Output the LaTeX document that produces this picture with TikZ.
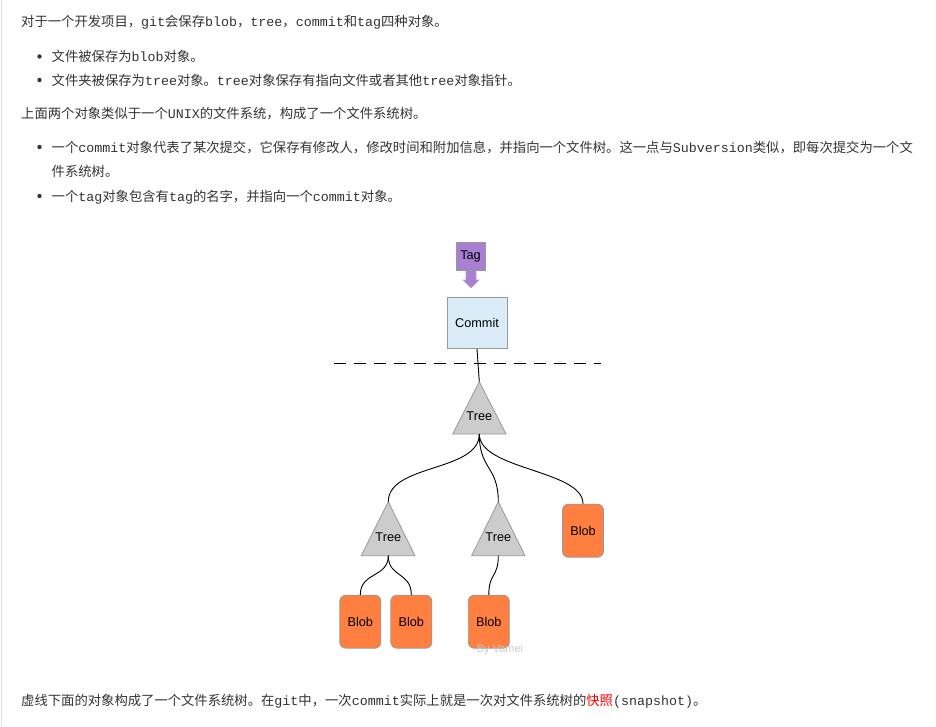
\documentclass[tikz,border=0pt]{standalone}
\usepackage{fontspec}
\newfontfamily\cjkf{Noto Sans CJK SC}
\newfontfamily\monof{Liberation Mono}
\newfontfamily\arialf{Liberation Sans}
\newcommand\mm[1]{{\monof #1}}
\definecolor{textgray}{HTML}{333333}
\definecolor{edgegray}{HTML}{E2E2E2}
\definecolor{bordergray}{HTML}{999999}
\definecolor{tagpurple}{HTML}{A97FD3}
\definecolor{arrowborder}{HTML}{B9A3CC}
\definecolor{commitblue}{HTML}{DAECF7}
\definecolor{treegray}{HTML}{CCCCCC}
\definecolor{bloborange}{HTML}{FF7F40}
\definecolor{wmgray}{HTML}{C5CCD3}
\definecolor{hlred}{HTML}{FF0000}
\tikzset{
  txt/.style={anchor=base west, inner sep=0pt, font=\cjkf\fontsize{13.33}{16}\selectfont, text=textgray},
  obj/.style={draw=bordergray, line width=0.8pt, inner sep=0pt, font=\arialf\fontsize{12.7}{15}\selectfont, text=black},
  tagbox/.style={obj, fill=tagpurple, minimum width=29pt, minimum height=28pt},
  commitbox/.style={obj, fill=commitblue, minimum width=60pt, minimum height=51pt},
  blobbox/.style={obj, fill=bloborange, rounded corners=6pt, minimum width=41pt, minimum height=53pt},
  treeshape/.style={draw=bordergray, line width=0.8pt, fill=treegray},
  treelabel/.style={inner sep=0pt, font=\arialf\fontsize{12.7}{15}\selectfont, text=black},
  link/.style={draw=black, line width=0.9pt},
  sepline/.style={draw=black, line width=0.9pt, dash pattern=on 12pt off 8pt},
  bulletdot/.style={fill=textgray}
}
\begin{document}
\begin{tikzpicture}[x=1pt,y=-1pt]
\fill[white] (0,0) rectangle (936,726);
\useasboundingbox (0,0) rectangle (936,726);
\draw[edgegray, line width=1pt] (1.5,0) -- (1.5,726);

% text
\node[txt] (l1) at (21,26.5) {对于一个开发项目，\mm{git}会保存\mm{blob}，\mm{tree}，\mm{commit}和\mm{tag}四种对象。};
\fill[bulletdot] (39.5,56.5) circle (2.2);
\node[txt] (l2) at (51.5,61.5) {文件被保存为\mm{blob}对象。};
\fill[bulletdot] (39.5,80) circle (2.2);
\node[txt] (l3) at (51.5,85) {文件夹被保存为\mm{tree}对象。\mm{tree}对象保存有指向文件或者其他\mm{tree}对象指针。};
\node[txt] (l4) at (21,118.3) {上面两个对象类似于一个\mm{UNIX}的文件系统，构成了一个文件系统树。};
\fill[bulletdot] (39.5,147) circle (2.2);
\node[txt] (l5) at (51.5,152) {一个\mm{commit}对象代表了某次提交，它保存有修改人，修改时间和附加信息，并指向一个文件树。这一点与\mm{Subversion}类似，即每次提交为一个文};
\node[txt] (l6) at (51.5,176.5) {件系统树。};
\fill[bulletdot] (39.5,196) circle (2.2);
\node[txt] (l7) at (51.5,201) {一个\mm{tag}对象包含有\mm{tag}的名字，并指向一个\mm{commit}对象。};
\node[txt] (l8) at (21,705) {虚线下面的对象构成了一个文件系统树。在\mm{git}中，一次\mm{commit}实际上就是一次对文件系统树的\textcolor{hlred}{快照}\mm{(snapshot)}。};

% tag and commit
\coordinate (tagc) at (470.5,256);
\draw[draw=arrowborder, fill=tagpurple, line width=0.6pt]
  ([xshift=-4.5pt]tagc |- 0,269) -- ([xshift=-4.5pt]tagc |- 0,280) -- ([xshift=-7.5pt]tagc |- 0,280)
  -- ([xshift=0.5pt]tagc |- 0,288) -- ([xshift=8.5pt]tagc |- 0,280) -- ([xshift=5.5pt]tagc |- 0,280)
  -- ([xshift=5.5pt]tagc |- 0,269);
\node[tagbox] (tag) at (tagc) {Tag};
\node[commitbox] (commit) at (477,323) {Commit};

% separator
\coordinate (sepl) at (334,363);
\coordinate (sepr) at (601,363);
\draw[sepline] (sepl) -- (sepr);

% trees
\coordinate (t0top) at (479.3,381.7);
\coordinate (t0bot) at (479.3,434);
\draw[treeshape] (t0top) -- (506,434) -- (452.7,434) -- cycle;
\node[treelabel] (t0) at (479.3,416) {Tree};

\coordinate (t1top) at (388.3,501.7);
\coordinate (t1bot) at (388.3,555.7);
\draw[treeshape] (t1top) -- (415,555.7) -- (361.3,555.7) -- cycle;
\node[treelabel] (t1) at (388.3,537) {Tree};

\coordinate (t2top) at (498.3,501.7);
\coordinate (t2bot) at (498.3,555.7);
\draw[treeshape] (t2top) -- (525,555.7) -- (471.6,555.7) -- cycle;
\node[treelabel] (t2) at (498.3,537) {Tree};

% blobs
\node[blobbox] (b0) at (583,530.7) {Blob};
\node[blobbox] (b1) at (360.3,621.7) {Blob};
\node[blobbox] (b2) at (411.3,621.7) {Blob};
\node[blobbox] (b3) at (488.8,621.7) {Blob};

% connectors
\draw[link] (commit.south) -- (t0top);
\draw[link] (t0bot) .. controls +(0,38) and +(0,-38) .. (t1top);
\draw[link] (t0bot) .. controls +(0,36) and +(0,-36) .. (t2top);
\draw[link] (t0bot) .. controls +(0,36) and +(0,-34) .. (b0.north);
\draw[link] (t1bot) .. controls +(0,22) and +(0,-23) .. (b1.north);
\draw[link] (t1bot) .. controls +(0,22) and +(0,-23) .. (b2.north);
\draw[link] (t2bot) .. controls +(0,22) and +(0,-22) .. (b3.north);

% watermark
\node[inner sep=0pt, font=\arialf\fontsize{11}{13}\selectfont, text=wmgray] (wm) at (500,649.5) {By Vamei};
\end{tikzpicture}
\end{document}
